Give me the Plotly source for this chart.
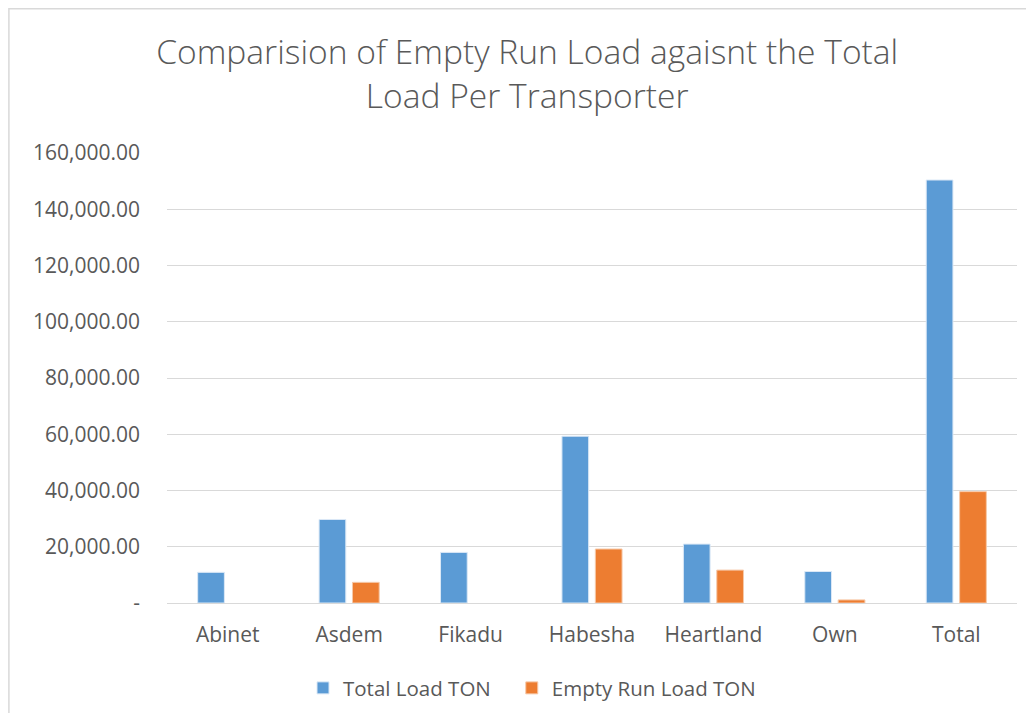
import plotly.graph_objects as go

# transporters and load values (tons); None = blank cell
transporters = ["Abinet", "Asdem", "Fikadu", "Habesha", "Heartland", "Own", "Total"]
total_load_ton = [10900, 29700, 18000, 59300, 20950, 11200, 150400]
empty_run_load_ton = [None, 7350, None, 19200, 11700, 1100, 39600]

y_ticks = [0, 20000, 40000, 60000, 80000, 100000, 120000, 140000, 160000]
y_tick_text = ["-" if v == 0 else f"{v:,.2f}" for v in y_ticks]

FONT = "Open Sans"
GREY = "#595959"

fig = go.Figure()
fig.add_trace(go.Bar(
    x=transporters, y=total_load_ton, name="Total Load TON\u00a0\u00a0\u00a0",
    marker=dict(color="#5b9bd5", line=dict(color="#dbe8f6", width=1)),
))
fig.add_trace(go.Bar(
    x=transporters, y=empty_run_load_ton, name="Empty Run Load TON",
    marker=dict(color="#ed7d31", line=dict(color="#f6c9a9", width=1)),
))

# page body keeps an 8px margin, so the figure is sized to fit inside it
fig.update_layout(
    width=1018, height=705,
    margin=dict(l=159, r=9, t=145, b=110, autoexpand=False),
    paper_bgcolor="white", plot_bgcolor="white",
    barmode="group", bargap=0.45, bargroupgap=0.2,
    font=dict(family=FONT, color=GREY, size=21),
    title=dict(
        text="Comparision of Empty Run Load agaisnt the Total<br>Load Per Transporter",
        x=0.51, xanchor="center", y=0.92, yanchor="middle",
        font=dict(family=FONT, size=33.6, color=GREY, weight=300),
    ),
    legend=dict(
        orientation="h", x=0.16, xanchor="left",
        y=-0.189, yanchor="middle", font=dict(size=20.5, color=GREY),
    ),
    showlegend=True,
)
fig.update_xaxes(showgrid=False, showline=False, ticks="", tickangle=0,
                 tickfont=dict(size=21), ticklabelstandoff=17)
fig.update_yaxes(
    range=[0, 160000], tickvals=y_ticks, ticktext=y_tick_text,
    showgrid=True, gridcolor="#d9d9d9", gridwidth=1,
    zeroline=True, zerolinecolor="#d9d9d9", zerolinewidth=1,
    showline=False, ticks="", tickfont=dict(size=21), ticklabelstandoff=26,
)

# light outer chart border, as in the spreadsheet chart area
fig.add_shape(
    type="rect", xref="paper", yref="paper",
    x0=-0.1860, x1=1.05, y0=-0.3, y1=1.3205,
    line=dict(color="#d9d9d9", width=1.5), fillcolor="rgba(0,0,0,0)", layer="below",
)

fig.write_html("out.html")
